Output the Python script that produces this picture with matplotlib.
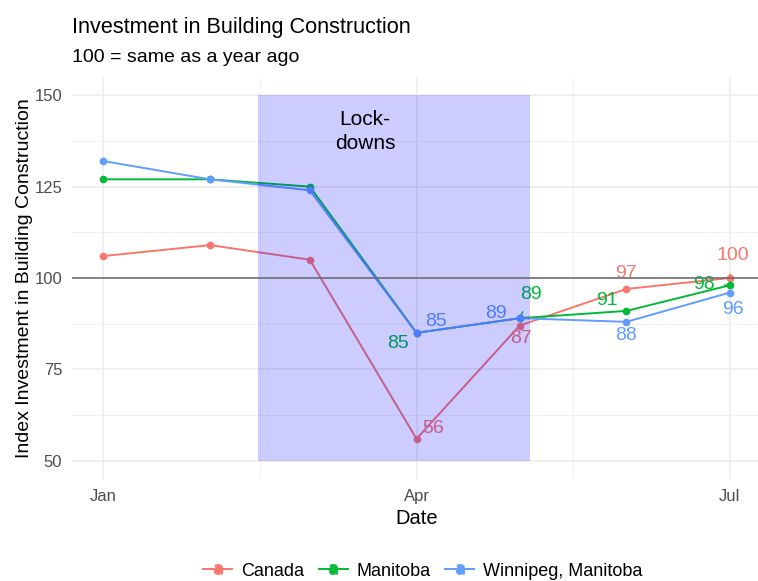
import datetime as dt
import numpy as np
import matplotlib
matplotlib.use('Agg')
import matplotlib.pyplot as plt
import matplotlib.dates as mdates
from matplotlib.lines import Line2D
from matplotlib.legend_handler import HandlerTuple

plt.rcParams['font.family'] = ['Liberation Sans', 'DejaVu Sans']

# data
months = [dt.date(2020, m, 1) for m in range(1, 8)]
canada = [106, 109, 105, 56, 87, 97, 100]
manitoba = [127, 127, 125, 85, 89, 91, 98]
winnipeg = [132, 127, 124, 85, 89, 88, 96]
series_names = ['Canada', 'Manitoba', 'Winnipeg, Manitoba']
lockdown_start = dt.date(2020, 2, 15)
lockdown_end = dt.date(2020, 5, 4)

colors = ['#F8766D', '#00BA38', '#619CFF']
# label offsets (pixels) for Apr..Jul points, and whether a repel segment is drawn
offsets = [
    [(17, 10, False), (1, -13, False), (0, 15, False), (3, 22, True)],
    [(-19, -11, False), (11, 24, True), (-19, 10, False), (-26, 1, True)],
    [(19, 11, False), (-24, 5, False), (0, -14, False), (3, -17, False)],
]

fig = plt.figure(figsize=(7.58, 5.81), dpi=100)
ax = fig.add_axes([72/758, 1 - 479/581, 689/758, 402/581])

x = mdates.date2num(months)
for vals, col, offs in zip([canada, manitoba, winnipeg], colors, offsets):
    ax.plot(x, vals, color=col, linewidth=1.4, marker='o', markersize=4.5, zorder=3)
    for xi, v, (dx, dy, seg) in zip(x[3:], vals[3:], offs):
        kw = {}
        if seg:
            kw['arrowprops'] = dict(arrowstyle='-', color=col, lw=1, shrinkA=5, shrinkB=2)
        ax.annotate(str(v), (xi, v), xytext=(dx, dy), textcoords='offset pixels',
                    ha='center', va='center', color=col, fontsize=14, zorder=3, **kw)

x0, x1 = mdates.date2num([lockdown_start, lockdown_end])
ax.fill_between([x0, x1], 50, 150, color='blue', alpha=0.2, linewidth=0, zorder=4)
ax.axhline(100, color='#707070', linewidth=1.2, zorder=5)
ax.text(mdates.date2num(dt.date(2020, 3, 17)), 140, 'Lock-\ndowns', ha='center', va='center',
        fontsize=15, linespacing=1.35, zorder=6)

span = x[-1] - x[0]
ax.set_xlim(x[0] - 0.05 * span, x[-1] + 0.05 * span)
ax.set_ylim(45, 155)
major = mdates.date2num([dt.date(2020, 1, 1), dt.date(2020, 4, 1), dt.date(2020, 7, 1)])
ax.set_xticks(major)
ax.set_xticklabels(['Jan', 'Apr', 'Jul'])
ax.set_xticks((major[:-1] + major[1:]) / 2, minor=True)
ax.set_yticks([50, 75, 100, 125, 150])
ax.set_yticks([62.5, 87.5, 112.5, 137.5], minor=True)
ax.grid(which='major', color='#EBEBEB', linewidth=1.1, zorder=0)
ax.grid(which='minor', color='#F0F0F0', linewidth=0.6, zorder=0)
ax.set_axisbelow(True)
for s in ax.spines.values():
    s.set_visible(False)
ax.tick_params(which='both', length=0, labelsize=12, labelcolor='#4D4D4D', pad=7)
ax.set_xlabel('Date', fontsize=14.5, labelpad=4)
ax.set_ylabel('Index Investment in Building Construction', fontsize=14, labelpad=1)

fig.text(72/758, 1 - 27/581, 'Investment in Building Construction', fontsize=15.6, va='center')
fig.text(72/758, 1 - 58/581, '100 = same as a year ago', fontsize=14, va='center')

handles = []
for col in colors:
    handles.append((Line2D([], [], color=col, marker='o', markersize=4.5, linewidth=1.4),
                    Line2D([], [], color=col, marker='$\\mathrm{a}$', markersize=7,
                           linestyle='none', alpha=0.8)))
fig.legend(handles, series_names, handler_map={tuple: HandlerTuple(ndivide=1)},
           loc='center', bbox_to_anchor=(0.558, 1 - 571/581), ncol=3, frameon=False,
           fontsize=13, handlelength=1.6, columnspacing=0.8, handletextpad=0.5)

fig.savefig('out.png', dpi=100)
